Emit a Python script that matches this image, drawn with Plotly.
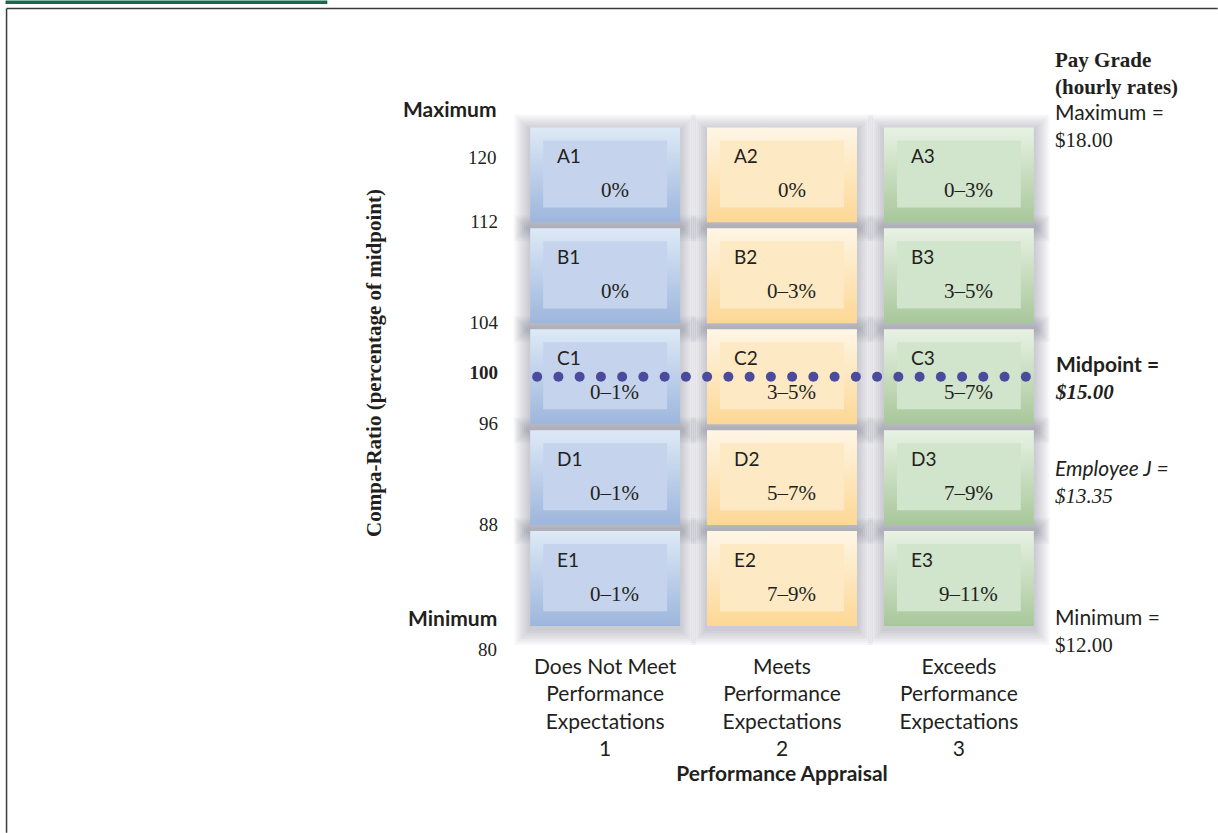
import numpy as np
import plotly.graph_objects as go

# ---------------- data ----------------
performance_levels = [
    "Does Not Meet<br>Performance<br>Expectations<br>1",
    "Meets<br>Performance<br>Expectations<br>2",
    "Exceeds<br>Performance<br>Expectations<br>3",
]
level_positions = [1, 2, 3]
grade_rows = ["A", "B", "C", "D", "E"]
row_top_ratio = [120, 112, 104, 96, 88]
row_bottom_ratio = [112, 104, 96, 88, 80]
increase_does_not_meet = ["0%", "0%", "0–1%", "0–1%", "0–1%"]
increase_meets = ["0%", "0–3%", "3–5%", "5–7%", "7–9%"]
increase_exceeds = ["0–3%", "3–5%", "5–7%", "7–9%", "9–11%"]
ratio_ticks = [112, 104, 100, 96, 88]
ratio_tick_text = ["112", "104", "<b>100</b>", "96", "88"]
range_max_ratio = 120
range_min_ratio = 80
pay_labels = ["Maximum =", "Midpoint =", "Employee J =", "Minimum ="]
pay_rates = [18.00, 15.00, 13.35, 12.00]
midpoint_rate = 15.00

# ---------------- geometry / style ----------------
W, H = 1218, 833
PXX = 177.0      # px per x unit
PXY = 12.625     # px per y unit
X_RANGE = [0.4, 3.6]
Y_RANGE = [100 - (652 - 376.5) / PXY, 124]
L = 605 + (X_RANGE[0] - 1) * PXX
R = 605 + (X_RANGE[1] - 1) * PXX
T = 376.5 - (Y_RANGE[1] - 100) * PXY
B = 376.5 + (100 - Y_RANGE[0]) * PXY

def fx(px):
    return (px - L) / (R - L)

def fy(py):
    return (B - py) / (B - T)

SANS = "Lato"
SERIF = "Liberation Serif"
INK = "#231f20"

col_styles = [
    dict(top="#dde9f6", bottom="#9db6dc", inner="#c5d4ec"),
    dict(top="#fef6e6", bottom="#fdd794", inner="#fde9c4"),
    dict(top="#e8f2e4", bottom="#a7c79a", inner="#d1e4cc"),
]
increases = [increase_does_not_meet, increase_meets, increase_exceeds]

half_w = 75 / PXX
gap = 3 / PXY
inset_x = 13 / PXX
inset_y = 13 / PXY

fig = go.Figure()
shapes = []
annotations = []

# soft drop shadows
for ci, xc in enumerate(level_positions):
    for ri in range(len(grade_rows)):
        y0 = row_bottom_ratio[ri] + gap
        y1 = row_top_ratio[ri] - gap
        for ex in [16, 14, 12, 10, 8, 6, 4, 2]:
            shapes.append(dict(
                type="rect", xref="x", yref="y", layer="below",
                x0=xc - half_w - ex / PXX, x1=xc + half_w + ex / PXX,
                y0=y0 - (ex + 3) / PXY, y1=y1 + (ex - 3) / PXY,
                fillcolor="rgba(95,100,112,0.045)", line=dict(width=0)))

# outer gradient boxes
for ci, xc in enumerate(level_positions):
    st = col_styles[ci]
    for ri in range(len(grade_rows)):
        y0 = row_bottom_ratio[ri] + gap
        y1 = row_top_ratio[ri] - gap
        x0, x1 = xc - half_w, xc + half_w
        fig.add_trace(go.Scatter(
            x=[x0, x1, x1, x0, x0], y=[y0, y0, y1, y1, y0],
            mode="lines", line=dict(width=0), fill="toself",
            fillgradient=dict(type="vertical",
                              colorscale=[[0, st["bottom"]], [1, st["top"]]],
                              start=y0, stop=y1),
            hoverinfo="skip", showlegend=False))

# inner rectangles
for ci, xc in enumerate(level_positions):
    st = col_styles[ci]
    xs, ys = [], []
    for ri in range(len(grade_rows)):
        y0 = row_bottom_ratio[ri] + gap + inset_y + 0.15
        y1 = row_top_ratio[ri] - gap - inset_y
        x0, x1 = xc - half_w + inset_x, xc + half_w - inset_x
        xs += [x0, x1, x1, x0, x0, None]
        ys += [y0, y0, y1, y1, y0, None]
    fig.add_trace(go.Scatter(
        x=xs, y=ys, mode="lines", line=dict(width=0), fill="toself",
        fillcolor=st["inner"], hoverinfo="skip", showlegend=False))

# cell labels
for ci, xc in enumerate(level_positions):
    for ri, g in enumerate(grade_rows):
        annotations.append(dict(
            x=xc - half_w + 25 / PXX, y=row_top_ratio[ri] - 2.45,
            xref="x", yref="y", text=f"{g}{ci + 1}", showarrow=False,
            xanchor="left", yanchor="middle",
            font=dict(family=SANS, size=19, color=INK)))
        annotations.append(dict(
            x=xc + 0.055, y=row_top_ratio[ri] - 5.23,
            xref="x", yref="y", text=increases[ci][ri], showarrow=False,
            xanchor="center", yanchor="middle",
            font=dict(family=SERIF, size=21, color=INK)))

# midpoint dotted line
mid_ratio = midpoint_rate / midpoint_rate * 100
dot_x = np.linspace(level_positions[0] - half_w + 7 / PXX,
                    level_positions[-1] + half_w - 8 / PXX, 24)
fig.add_trace(go.Scatter(
    x=dot_x, y=[mid_ratio] * len(dot_x), mode="markers",
    marker=dict(symbol="circle", size=10, color="#4a4b9c"),
    hoverinfo="skip", showlegend=False))

# left side extra labels
annotations += [
    dict(x=0, y=range_max_ratio, xref="paper", yref="y", text="<b>Maximum</b>",
         xanchor="right", yanchor="middle", yshift=16, xshift=0, showarrow=False,
         font=dict(family=SANS, size=21, color=INK)),
    dict(x=0, y=range_max_ratio, xref="paper", yref="y", text=str(range_max_ratio),
         xanchor="right", yanchor="middle", yshift=-33, xshift=0, showarrow=False,
         font=dict(family=SERIF, size=19, color=INK)),
    dict(x=0, y=range_min_ratio, xref="paper", yref="y", text="<b>Minimum</b>",
         xanchor="right", yanchor="middle", yshift=12, xshift=0, showarrow=False,
         font=dict(family=SANS, size=21, color=INK)),
    dict(x=0, y=range_min_ratio, xref="paper", yref="y", text=str(range_min_ratio),
         xanchor="right", yanchor="middle", yshift=-20, xshift=0, showarrow=False,
         font=dict(family=SERIF, size=19, color=INK)),
]

# right side pay-grade labels
pay_styles = [
    ("{}", "{}", 0),
    ("<b>{}</b>", "<b><i>{}</i></b>", 0),
    ("<i>{}</i>", "<i>{}</i>", 35),
    ("{}", "{}", 0),
]
x_right = 3 + (1053 - 959) / PXX
for lbl, rate, (lf, rf, ys) in zip(pay_labels, pay_rates, pay_styles):
    ratio = rate / midpoint_rate * 100
    text = (lf.format(lbl) + "<br>" +
            f"<span style='font-family:{SERIF}'>" + rf.format(f"${rate:.2f}") + "</span>")
    annotations.append(dict(
        x=x_right, y=ratio, xref="x", yref="y", text=text, showarrow=False,
        xanchor="left", yanchor="middle", align="left", yshift=ys - 1,
        font=dict(family=SANS, size=21, color=INK)))
annotations.append(dict(
    x=x_right, y=pay_rates[0] / midpoint_rate * 100, xref="x", yref="y",
    text="<b>Pay Grade<br>(hourly rates)</b>", showarrow=False,
    xanchor="left", yanchor="middle", align="left", yshift=51,
    font=dict(family=SERIF, size=21, color=INK)))

# page decorations (border, green bar)
shapes += [
    dict(type="line", xref="paper", yref="paper", x0=fx(6), x1=fx(1218), y0=fy(8), y1=fy(8),
         line=dict(color="#3a3a3a", width=1.5)),
    dict(type="line", xref="paper", yref="paper", x0=fx(6), x1=fx(6), y0=fy(8), y1=fy(833),
         line=dict(color="#3a3a3a", width=1.5)),
    dict(type="rect", xref="paper", yref="paper", x0=fx(5), x1=fx(327), y0=fy(3.5), y1=fy(0),
         fillcolor="#17694a", line=dict(width=0)),
]

fig.update_layout(
    width=W, height=H,
    margin=dict(l=L, r=W - R, t=T, b=H - B, pad=0),
    paper_bgcolor="white", plot_bgcolor="white",
    showlegend=False, hovermode=False,
    shapes=shapes, annotations=annotations,
    xaxis=dict(range=X_RANGE, tickvals=level_positions, ticktext=performance_levels,
               showgrid=False, zeroline=False, showline=False, ticks="",
               automargin=False, tickfont=dict(family=SANS, size=21, color=INK),
               title=dict(text="<b>Performance Appraisal</b>", standoff=3,
                          font=dict(family=SANS, size=21, color=INK))),
    yaxis=dict(range=Y_RANGE, tickvals=ratio_ticks, ticktext=ratio_tick_text,
               showgrid=False, zeroline=False, showline=False, ticks="",
               automargin=False, ticklabelshift=-4, ticklabelstandoff=0,
               tickfont=dict(family=SERIF, size=19, color=INK),
               title=dict(text="<b>Compa-Ratio (percentage of midpoint)</b>", standoff=82,
                          font=dict(family=SERIF, size=21, color=INK))),
)

fig.write_html("out.html", config={"displayModeBar": False},
               post_script="document.body.style.margin='0';document.body.style.overflow='hidden';")
